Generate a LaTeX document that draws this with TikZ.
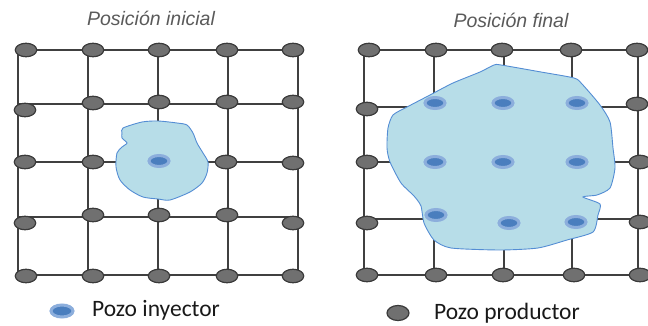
\documentclass[tikz,border=0pt]{standalone}
\usepackage{fontspec}
\setmainfont{Carlito}
\newfontfamily\titlefont{Liberation Sans}
\usetikzlibrary{shapes.geometric}
\definecolor{prodfill}{RGB}{112,112,112}
\definecolor{prodedge}{RGB}{58,58,58}
\definecolor{gridcol}{RGB}{64,64,64}
\definecolor{blobfill}{RGB}{183,221,232}
\definecolor{blobedge}{RGB}{84,141,212}
\definecolor{injcore}{RGB}{74,126,190}
\definecolor{injhalo}{RGB}{140,174,220}
\definecolor{titlecol}{RGB}{90,90,90}
\definecolor{legcol}{RGB}{25,25,25}
\tikzset{
  prod/.style={ellipse, draw=prodedge, fill=prodfill, line width=1.2pt, minimum width=21.5pt, minimum height=13.5pt, inner sep=0pt},
  inj/.style={ellipse, draw=injhalo, fill=injcore, line width=3pt, minimum width=20pt, minimum height=11pt, inner sep=0pt},
  gridline/.style={draw=gridcol, line width=1.5pt},
  blob/.style={draw=blobedge, fill=blobfill, line width=0.9pt},
  titletext/.style={font=\titlefont\itshape\fontsize{19.5}{22}\selectfont, text=titlecol, inner sep=0pt},
  legtext/.style={font=\fontsize{23.5}{27}\selectfont, text=legcol, anchor=west, inner sep=0pt}
}
\begin{document}
\begin{tikzpicture}[x=1pt,y=-1pt]
\useasboundingbox (0,0) rectangle (648,326);
% ---------- grid coordinates ----------
\foreach \x [count=\i] in {18,88,158,228,298}{
  \foreach \y [count=\j] in {50,104,162,217,275}{
    \coordinate (A\i\j) at (\x,\y);
  }
}
\foreach \x [count=\i] in {364,434,504,572,638}{
  \foreach \y [count=\j] in {50,107,162,219,275}{
    \coordinate (B\i\j) at (\x,\y);
  }
}
% ---------- grid lines ----------
\foreach \k in {1,...,5}{
  \draw[gridline] (A1\k) -- (A5\k);
  \draw[gridline] (A\k1) -- (A\k5);
  \draw[gridline] (B1\k) -- (B5\k);
  \draw[gridline] (B\k1) -- (B\k5);
}
% ---------- blobs ----------
\draw[blob] plot[smooth cycle, tension=0.45] coordinates {
 (123,128) (142,122) (158,121) (177,123) (187,125) (193,133) (197,143) (203,153) (208,162)
 (207,173) (202,183) (190,192) (170,200) (158,199) (143,197) (130,190) (120,180) (116,167)
 (117,153) (122,147) (127,143) (122,138) (122,133)};
\draw[blob] plot[smooth cycle, tension=0.4] coordinates {
 (494,65) (501,65) (541,72) (574,78) (582,84) (600,105) (610,122) (613,148) (615,168)
 (610,188) (597,195) (583,197) (600,204) (598,215) (593,232) (567,240) (538,248) (500,250)
 (451,248) (434,240) (424,223) (421,206) (414,196) (401,183) (390,162) (387,148) (388,128)
 (393,115) (407,107) (430,95) (453,83) (480,72)};
% ---------- left producers ----------
\node[prod] (p11) at (26,50) {};
\node[prod] (p12) at (93,50) {};
\node[prod] (p13) at (159,50) {};
\node[prod] (p14) at (227,50) {};
\node[prod] (p15) at (293,50) {};
\node[prod] (p21) at (25,110) {};
\node[prod] (p22) at (93,103) {};
\node[prod] (p23) at (159,102) {};
\node[prod] (p24) at (227,102) {};
\node[prod] (p25) at (293,102) {};
\node[prod] (p31) at (25,162) {};
\node[prod] (p32) at (93,162) {};
\node[inj]  (i33) at (159,161) {};
\node[prod] (p34) at (226,162) {};
\node[prod] (p35) at (293,163) {};
\node[prod] (p41) at (25,223) {};
\node[prod] (p42) at (93,215) {};
\node[prod] (p43) at (159,215) {};
\node[prod] (p44) at (227,215) {};
\node[prod] (p45) at (293,223) {};
\node[prod] (p51) at (26,276) {};
\node[prod] (p52) at (93,276) {};
\node[prod] (p53) at (159,276) {};
\node[prod] (p54) at (227,276) {};
\node[prod] (p55) at (293,276) {};
% ---------- right producers / injectors ----------
\node[prod] (q11) at (369,50) {};
\node[prod] (q12) at (436,50) {};
\node[prod] (q13) at (502,50) {};
\node[prod] (q14) at (571,50) {};
\node[prod] (q15) at (637,50) {};
\node[prod] (q21) at (367,109) {};
\node[inj]  (j22) at (435,103) {};
\node[inj]  (j23) at (503,103) {};
\node[inj]  (j24) at (577,103) {};
\node[prod] (q25) at (637,104) {};
\node[prod] (q31) at (367,162) {};
\node[inj]  (j32) at (435,162) {};
\node[inj]  (j33) at (503,162) {};
\node[inj]  (j34) at (577,162) {};
\node[prod] (q35) at (640,162) {};
\node[prod] (q41) at (367,223) {};
\node[inj]  (j42) at (436,215) {};
\node[inj]  (j43) at (509,223) {};
\node[inj]  (j44) at (576,222) {};
\node[prod] (q45) at (640,222) {};
\node[prod] (q51) at (367,275) {};
\node[prod] (q52) at (436,275) {};
\node[prod] (q53) at (503,275) {};
\node[prod] (q54) at (574,275) {};
\node[prod] (q55) at (640,275) {};
% ---------- titles ----------
\node[titletext] (t1) at (151,18) {Posición inicial};
\node[titletext] (t2) at (511,20) {Posición final};
% ---------- legend ----------
\node[inj, minimum width=22pt, minimum height=12pt] (legi) at (62,311) {};
\node[legtext] (legit) at (92,310) {Pozo inyector};
\node[prod, minimum width=22pt, minimum height=15pt] (legp) at (398,313) {};
\node[legtext] (legpt) at (434,313) {Pozo productor};
\end{tikzpicture}
\end{document}
